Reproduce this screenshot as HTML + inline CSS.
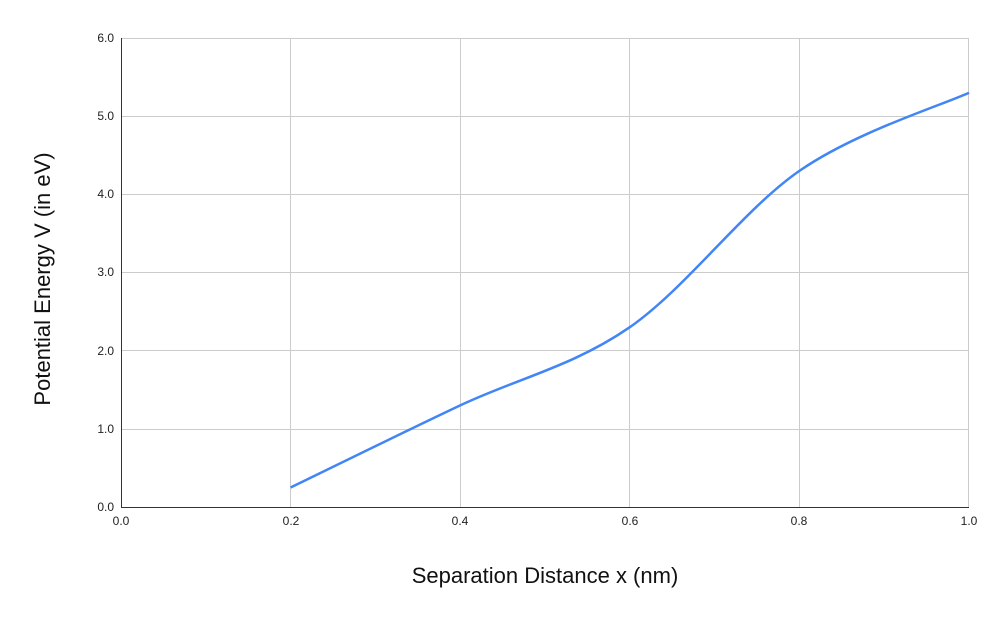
<!DOCTYPE html>
<html><head><style>
html,body{margin:0;padding:0;background:#fff;}
</style></head><body>
<svg width="1000" height="619" viewBox="0 0 1000 619" xmlns="http://www.w3.org/2000/svg" font-family="Liberation Sans, Arial, sans-serif">
<rect width="1000" height="619" fill="#fff"/>
<g stroke="#cccccc" stroke-width="1">
<line x1="121" y1="38.5" x2="969" y2="38.5"/>
<line x1="121" y1="116.5" x2="969" y2="116.5"/>
<line x1="121" y1="194.5" x2="969" y2="194.5"/>
<line x1="121" y1="272.5" x2="969" y2="272.5"/>
<line x1="121" y1="350.5" x2="969" y2="350.5"/>
<line x1="121" y1="429.5" x2="969" y2="429.5"/>
<line x1="290.5" y1="38" x2="290.5" y2="507"/>
<line x1="460.5" y1="38" x2="460.5" y2="507"/>
<line x1="629.5" y1="38" x2="629.5" y2="507"/>
<line x1="799.5" y1="38" x2="799.5" y2="507"/>
<line x1="968.5" y1="38" x2="968.5" y2="507"/>
</g>
<line x1="121.5" y1="38" x2="121.5" y2="507" stroke="#333" stroke-width="1"/>
<line x1="121" y1="507.5" x2="969" y2="507.5" stroke="#333" stroke-width="1"/>
<g font-size="12" fill="#222" text-anchor="end">
<text x="114" y="42">6.0</text>
<text x="114" y="120">5.0</text>
<text x="114" y="198">4.0</text>
<text x="114" y="276">3.0</text>
<text x="114" y="355">2.0</text>
<text x="114" y="433">1.0</text>
<text x="114" y="511">0.0</text>
</g>
<g font-size="12" fill="#222" text-anchor="middle">
<text x="121" y="525">0.0</text>
<text x="291" y="525">0.2</text>
<text x="460" y="525">0.4</text>
<text x="630" y="525">0.6</text>
<text x="799" y="525">0.8</text>
<text x="969" y="525">1.0</text>
</g>
<text x="545" y="583" font-size="22" fill="#111" text-anchor="middle">Separation Distance x (nm)</text>
<text transform="translate(50,279) rotate(-90)" font-size="22" fill="#111" text-anchor="middle">Potential Energy V (in eV)</text>
<path d="M290.6,487.5 C318.9,473.8 403.7,432.1 460.2,405.4 C516.7,378.7 573.3,366.3 629.8,327.2 C686.3,288.1 742.9,210 799.4,170.9 C855.9,131.8 940.7,105.7 969,92.7" fill="none" stroke="#4285f4" stroke-width="2.5"/>
</svg>
</body></html>
